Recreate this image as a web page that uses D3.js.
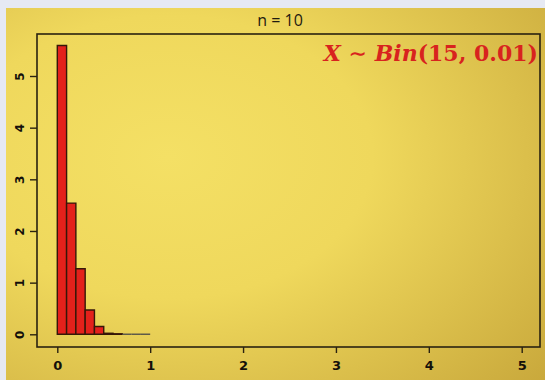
<!DOCTYPE html>
<html>
<head>
<meta charset="utf-8">
<script src="https://cdn.jsdelivr.net/npm/d3@7"></script>
<style>
  body { margin: 0; background: #e6e9f3; }
  svg { display: block; }
</style>
</head>
<body>
<div id="chart"></div>
<script>
// histogram of sample means, n = 10, density scale
var binStarts = [0, 0.1, 0.2, 0.3, 0.4, 0.5, 0.6, 0.7, 0.8, 0.9];
var binWidth = 0.1;
var densities = [5.59, 2.54, 1.27, 0.47, 0.15, 0.02, 0.01, 0, 0, 0];
var xTicks = [0, 1, 2, 3, 4, 5];
var yTicks = [0, 1, 2, 3, 4, 5];
var titleText = "n = 10";

var W = 545, H = 380;
var box = {left: 37, top: 34, right: 540, bottom: 347};

var svg = d3.select("#chart").append("svg")
    .attr("width", W)
    .attr("height", H);

// yellow backdrop
var defs = svg.append("defs");
var grad = defs.append("radialGradient")
    .attr("id", "bg")
    .attr("cx", "30%").attr("cy", "40%").attr("r", "95%");
grad.append("stop").attr("offset", "0%").attr("stop-color", "#f4e065");
grad.append("stop").attr("offset", "40%").attr("stop-color", "#efd85c");
grad.append("stop").attr("offset", "100%").attr("stop-color", "#c7a63a");

svg.append("rect")
    .attr("x", 6).attr("y", 8)
    .attr("width", W - 6).attr("height", H - 8)
    .attr("fill", "url(#bg)");

var x = d3.scaleLinear().domain([0, 5]).range([57.3, 521.7]);
var y = d3.scaleLinear().domain([0, 5]).range([334.3, 76]);

// bars as paths so empty bins still leave their line
svg.selectAll("path.bar")
  .data(binStarts)
  .enter()
  .append("path")
    .attr("class", "bar")
    .attr("d", function(d, i) {
      var x0 = x(d), x1 = x(d + binWidth), y0 = y(0), y1 = y(densities[i]);
      return "M" + x0 + "," + y0 + "V" + y1 + "H" + x1 + "V" + y0 + "Z";
    })
    .attr("fill", "#e4211b")
    .attr("stroke", function(d, i) { return densities[i] > 0 ? "#361708" : "#5e5a48"; })
    .attr("stroke-width", 1.4);

// plot box
svg.append("rect")
    .attr("x", box.left).attr("y", box.top)
    .attr("width", box.right - box.left)
    .attr("height", box.bottom - box.top)
    .attr("fill", "none")
    .attr("stroke", "#2a2210")
    .attr("stroke-width", 1.6);

// x axis
var gx = svg.append("g")
    .attr("transform", "translate(0," + box.bottom + ")")
    .call(d3.axisBottom(x).tickValues(xTicks).tickSize(6).tickPadding(8).tickFormat(d3.format("d")));
gx.select(".domain").remove();
gx.selectAll("line").attr("stroke", "#2a2210").attr("stroke-width", 1.4);
gx.selectAll("text")
    .attr("fill", "#14100a")
    .style("font-family", "'DejaVu Sans', Arial, sans-serif")
    .style("font-weight", "bold")
    .style("font-size", "13px");

// y axis, labels turned like R's default
var gy = svg.append("g")
    .attr("transform", "translate(" + box.left + ",0)")
    .call(d3.axisLeft(y).tickValues(yTicks).tickSize(7).tickFormat(d3.format("d")));
gy.select(".domain").remove();
gy.selectAll("line").attr("stroke", "#2a2210").attr("stroke-width", 1.4);
gy.selectAll("text")
    .attr("fill", "#14100a")
    .attr("x", 0)
    .attr("text-anchor", "middle")
    .attr("transform", "translate(-17,0) rotate(-90)")
    .attr("dy", "0.35em")
    .style("font-family", "'DejaVu Sans', Arial, sans-serif")
    .style("font-weight", "bold")
    .style("font-size", "12px");

// title
svg.append("text")
    .attr("x", 280).attr("y", 26)
    .attr("text-anchor", "middle")
    .attr("fill", "#1e1a10")
    .style("font-family", "'Open Sans', sans-serif")
    .style("font-size", "16px")
    .text(titleText);

// distribution label
var lab = svg.append("text")
    .attr("x", 538).attr("y", 61)
    .attr("text-anchor", "end")
    .attr("fill", "#d8231e")
    .style("font-family", "'DejaVu Serif', 'Liberation Serif', serif")
    .style("font-weight", "bold")
    .style("font-size", "22px");
lab.append("tspan").style("font-style", "italic").text("X");
lab.append("tspan").text(" \u223C ");
lab.append("tspan").style("font-style", "italic").text("Bin");
lab.append("tspan").text("(15, 0.01)");
</script>
</body>
</html>
